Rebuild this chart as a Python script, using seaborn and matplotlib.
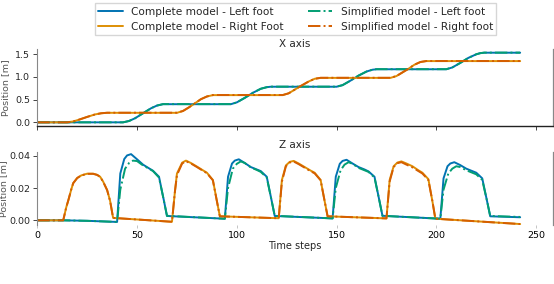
import matplotlib
matplotlib.use("Agg")
import matplotlib.pyplot as plt
import seaborn as sns

# foot trajectories, complete vs simplified model
# ---- X axis ----
xr_t = [0, 15, 18, 21, 25, 29, 32, 35, 70, 73, 76, 79, 82, 85, 88, 123, 126, 129, 132, 136, 139, 142, 177, 180, 183, 186, 189, 192, 195, 242]
xr_c = [0.0, 0.0, 0.02, 0.06, 0.12, 0.175, 0.2, 0.21, 0.21, 0.25, 0.33, 0.42, 0.51, 0.57, 0.60, 0.60, 0.64, 0.72, 0.80, 0.90, 0.96, 0.98, 0.98, 1.02, 1.10, 1.18, 1.27, 1.33, 1.35, 1.35]
xr_s = [0.0, 0.0, 0.02, 0.06, 0.12, 0.175, 0.2, 0.212, 0.212, 0.25, 0.33, 0.42, 0.51, 0.57, 0.602, 0.602, 0.64, 0.72, 0.80, 0.90, 0.96, 0.982, 0.982, 1.02, 1.10, 1.18, 1.27, 1.33, 1.352, 1.352]

xl_t = [0, 43, 46, 49, 53, 57, 60, 63, 97, 100, 104, 108, 112, 115, 117, 150, 153, 157, 161, 165, 168, 170, 205, 208, 212, 216, 220, 222, 224, 242]
xl_c = [0.0, 0.0, 0.03, 0.09, 0.20, 0.31, 0.37, 0.40, 0.40, 0.44, 0.54, 0.65, 0.74, 0.775, 0.785, 0.785, 0.82, 0.92, 1.03, 1.12, 1.16, 1.17, 1.17, 1.21, 1.31, 1.42, 1.50, 1.525, 1.535, 1.535]
xl_s = [0.0, 0.0, 0.03, 0.09, 0.20, 0.31, 0.37, 0.402, 0.402, 0.44, 0.54, 0.65, 0.74, 0.775, 0.787, 0.787, 0.82, 0.92, 1.03, 1.12, 1.16, 1.172, 1.172, 1.21, 1.31, 1.42, 1.50, 1.525, 1.537, 1.537]

# ---- Z axis ----
zl_t = [0, 13, 25, 40, 41.6, 43.6, 45, 47, 50, 53, 56, 58, 61, 63.4, 65,
        94, 95.6, 97.6, 99, 101, 104, 107, 110, 112, 115, 117.4, 119,
        148, 149.6, 151.6, 153, 155, 158, 161, 164, 166, 169, 171.4, 173,
        202, 203.6, 205.6, 207, 209, 212, 215, 218, 220, 223, 225.4, 227, 242]
zl_c = [0.0, 0.0, -0.0003, -0.001, 0.029, 0.038, 0.0402, 0.041, 0.0378, 0.0345, 0.0322, 0.0307, 0.027, 0.0126, 0.0027,
        0.0010, 0.027, 0.0352, 0.0370, 0.0378, 0.0355, 0.0330, 0.0315, 0.0305, 0.027, 0.0125, 0.0027,
        0.0012, 0.027, 0.035, 0.0368, 0.0375, 0.0352, 0.0330, 0.0315, 0.0303, 0.027, 0.0125, 0.0028,
        0.0010, 0.026, 0.0335, 0.0352, 0.0360, 0.0342, 0.0320, 0.0305, 0.0295, 0.026, 0.012, 0.0025, 0.0019]

zls_t = [0, 13, 25, 40, 41.6, 44, 46, 48, 50, 53, 56, 58, 61, 63.4, 65,
         94, 95.6, 98, 100, 102, 104, 107, 110, 112, 115, 117.4, 119,
         148, 149.6, 152, 154, 156, 158, 161, 164, 166, 169, 171.4, 173,
         202, 203.6, 206, 208, 210, 212, 215, 218, 220, 223, 225.4, 227, 242]
zl_s = [0.0, 0.0, -0.0003, -0.001, 0.019, 0.032, 0.0355, 0.0370, 0.0367, 0.0340, 0.0320, 0.0305, 0.0265, 0.0125, 0.0028,
        0.0010, 0.020, 0.032, 0.0350, 0.0365, 0.0355, 0.0328, 0.0312, 0.0300, 0.0265, 0.0125, 0.0028,
        0.0012, 0.020, 0.031, 0.0345, 0.0360, 0.0350, 0.0325, 0.0310, 0.0300, 0.0265, 0.0125, 0.0028,
        0.0010, 0.019, 0.029, 0.0320, 0.0335, 0.0330, 0.0310, 0.0295, 0.0285, 0.0250, 0.012, 0.0027, 0.0021]

zr_t = [0, 13, 14.5, 15.6, 17, 18, 20, 22, 25, 28, 30, 31.5, 33, 35, 36.5, 38,
        67.5, 69, 70, 72.6, 74.5, 77, 80, 83, 85, 88, 90, 91.5,
        121, 122.6, 124.6, 126.5, 128.5, 131, 134, 137, 139, 142, 144, 145.5,
        175, 176.6, 178.6, 180.5, 182.5, 185, 188, 191, 193, 196, 198, 199.5, 242]
zr_c = [0.0, 0.0, 0.008, 0.0126, 0.019, 0.023, 0.0262, 0.0278, 0.0289, 0.0289, 0.0282, 0.027, 0.024, 0.0188, 0.012, 0.0015,
        -0.0009, 0.018, 0.029, 0.0357, 0.0370, 0.0355, 0.0333, 0.0310, 0.0295, 0.025, 0.012, 0.0025,
        0.0013, 0.025, 0.034, 0.0362, 0.0368, 0.0352, 0.0330, 0.0308, 0.0295, 0.025, 0.012, 0.0025,
        0.0012, 0.025, 0.0335, 0.0358, 0.0365, 0.0352, 0.0335, 0.0310, 0.0295, 0.0255, 0.012, 0.0010, -0.0023]
zr_s = [0.0, 0.0, 0.008, 0.0126, 0.019, 0.023, 0.0262, 0.0278, 0.0288, 0.0288, 0.0281, 0.0269, 0.0239, 0.0187, 0.012, 0.0015,
        -0.0009, 0.018, 0.028, 0.0352, 0.0366, 0.0352, 0.0330, 0.0307, 0.0292, 0.0248, 0.012, 0.0025,
        0.0013, 0.024, 0.0335, 0.0358, 0.0364, 0.0348, 0.0326, 0.0304, 0.0291, 0.0248, 0.012, 0.0025,
        0.0012, 0.024, 0.0330, 0.0354, 0.0360, 0.0345, 0.0328, 0.0305, 0.0290, 0.0250, 0.012, 0.0010, -0.0023]

labels = ['Complete model - Left foot', 'Complete model - Right Foot',
          'Simplified model - Left foot', 'Simplified model - Right foot']

sns.set_theme(style="ticks", palette="colorblind")
pal = sns.color_palette("colorblind")
plt.rcParams['font.family'] = ['DejaVu Sans']

fig = plt.figure(figsize=(5.54, 2.84), dpi=100)
ax1 = fig.add_axes([0.0673, 0.5574, 0.9303, 0.2690])
ax2 = fig.add_axes([0.0673, 0.2077, 0.9303, 0.2581], sharex=ax1)

lw = 1.4
sns.lineplot(x=xl_t, y=xl_c, ax=ax1, color=pal[0], lw=lw, label=labels[0])
sns.lineplot(x=xr_t, y=xr_c, ax=ax1, color=pal[1], lw=lw, label=labels[1])
sns.lineplot(x=xl_t, y=xl_s, ax=ax1, color=pal[2], lw=lw, ls='-.', label=labels[2])
sns.lineplot(x=xr_t, y=xr_s, ax=ax1, color=pal[3], lw=lw, ls='-.', label=labels[3])

sns.lineplot(x=zl_t, y=zl_c, ax=ax2, color=pal[0], lw=lw)
sns.lineplot(x=zr_t, y=zr_c, ax=ax2, color=pal[1], lw=lw)
sns.lineplot(x=zls_t, y=zl_s, ax=ax2, color=pal[2], lw=lw, ls='-.')
sns.lineplot(x=zr_t, y=zr_s, ax=ax2, color=pal[3], lw=lw, ls='-.')

handles, labs = ax1.get_legend_handles_labels()
ax1.get_legend().remove()
fig.legend(handles, labs, loc='lower center', bbox_to_anchor=(0.534, 0.858), ncol=2,
           fontsize=7.6, frameon=True, handlelength=2.3, handletextpad=0.8,
           columnspacing=2.3, labelspacing=0.5, borderpad=0.3, fancybox=False,
           edgecolor='#cccccc')

ax1.set_xlim(0, 258.3)
ax1.set_ylim(-0.074, 1.61)
ax2.set_ylim(-0.0029, 0.0425)
ax1.set_xticks([0, 50, 100, 150, 200, 250])
ax1.set_yticks([0.0, 0.5, 1.0, 1.5])
ax2.set_yticks([0.0, 0.02, 0.04])
ax2.yaxis.set_major_formatter(matplotlib.ticker.FormatStrFormatter('%.2f'))
ax1.tick_params(labelbottom=False)

ax1.set_title('X axis', fontsize=7.5, pad=2)
ax2.set_title('Z axis', fontsize=7.5, pad=3)
ax1.set_ylabel('Position [m]', fontsize=6.8, color='#555555', labelpad=4)
ax2.set_ylabel('Position [m]', fontsize=6.8, color='#555555', labelpad=1)
ax2.set_xlabel('Time steps', fontsize=7, labelpad=1)

for ax in (ax1, ax2):
    ax.tick_params(labelsize=6.8, length=3, width=0.6, pad=2)
    ax.spines['top'].set_visible(False)
    ax.spines['right'].set_color('#888888')
    ax.spines['right'].set_linewidth(0.9)
    ax.spines['left'].set_color('#888888')
    ax.spines['left'].set_linewidth(0.8)
ax1.spines['bottom'].set_color('#222222')
ax1.spines['bottom'].set_linewidth(1.0)
ax2.spines['bottom'].set_visible(False)
ax2.tick_params(axis='x', colors='#bbbbbb', labelcolor='black', length=2)

fig.savefig('out.png', dpi=100)
